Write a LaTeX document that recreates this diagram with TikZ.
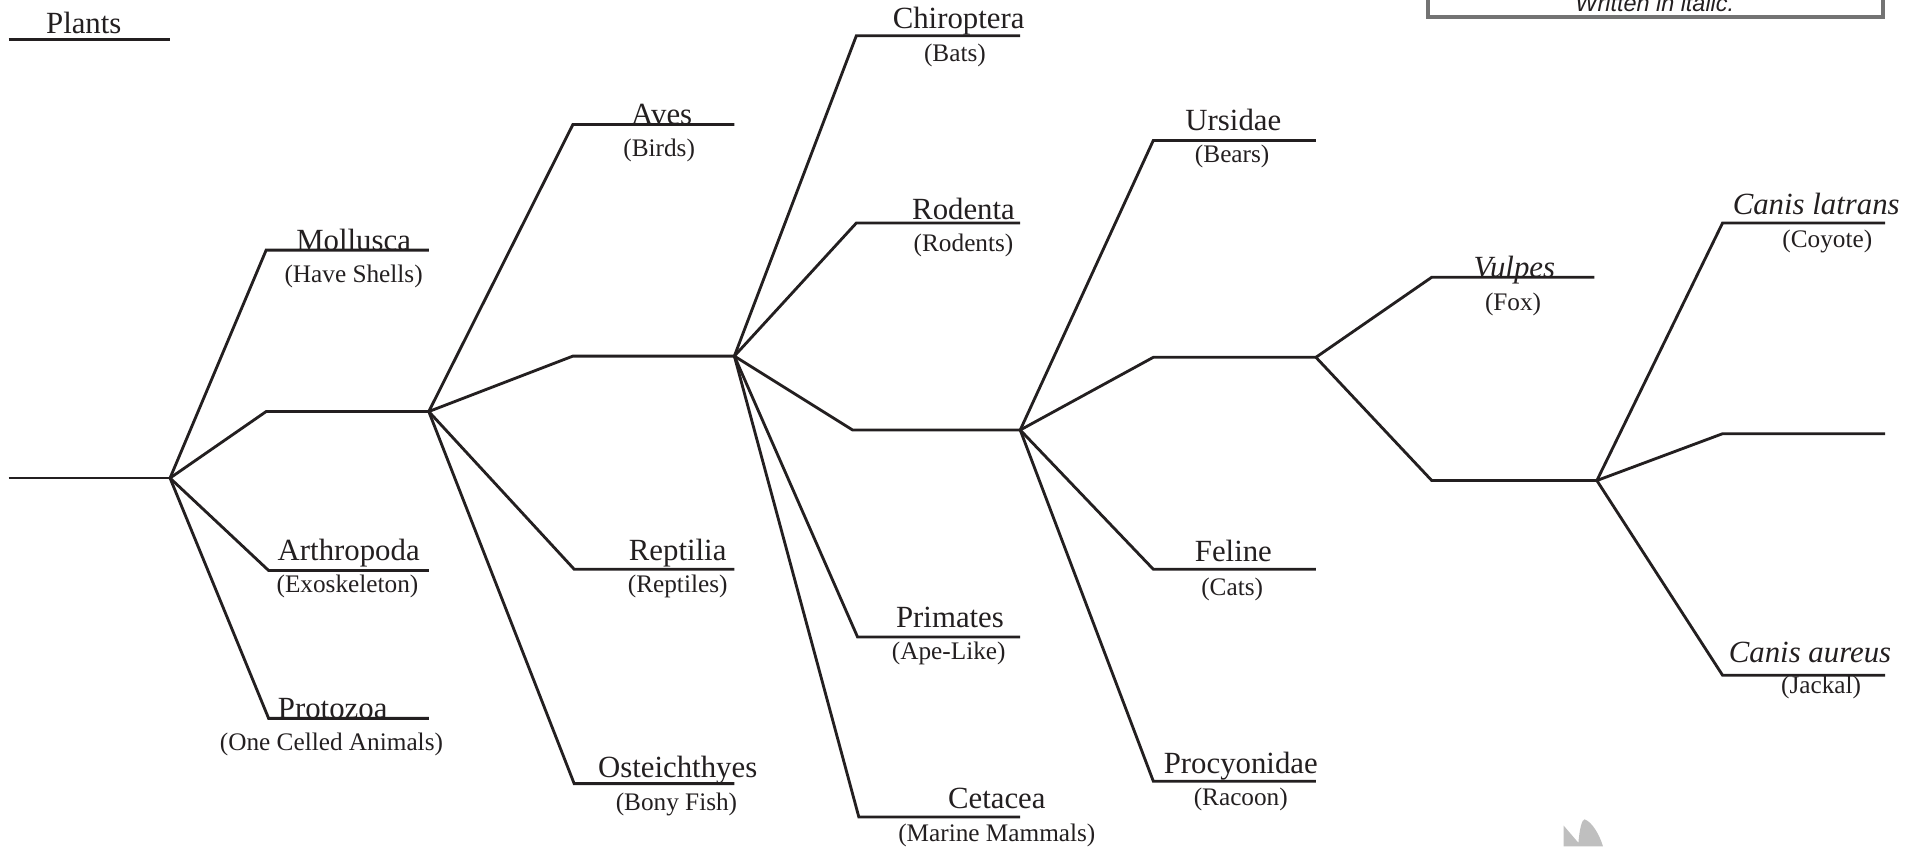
\documentclass[tikz,border=0pt]{standalone}
\usepackage{fontspec}
\setmainfont{Liberation Serif}
\newfontfamily\boxfont{Liberation Sans}
\definecolor{ink}{HTML}{231F20}
\begin{document}
\begin{tikzpicture}[x=1pt,y=-1pt,
  br/.style={line width=2.3pt, line join=miter, draw=ink},
  lab/.style={anchor=base, inner sep=0pt, text=ink, font=\fontsize{25}{25}\selectfont},
  sub/.style={anchor=base, inner sep=0pt, text=ink, font=\fontsize{20.5}{20.5}\selectfont},
  ilab/.style={lab, font=\fontsize{25}{25}\selectfont\itshape}]
\useasboundingbox (0,0) rectangle (1568,687);

% legend box (cut off at top)
\draw[black!55, line width=3.4pt] (1159,-10) -- (1159,13.5) -- (1528,13.5) -- (1528,-10);
\node[anchor=base, inner sep=0pt, text=ink, font=\boxfont\fontsize{19}{19}\selectfont\itshape] (note) at (1343,9) {Written in italic.};

% watermark fragment
\fill[gray!50] (1269,687) -- (1269,670) -- (1281,684) .. controls (1282,672) and (1284,665) .. (1286,665) .. controls (1292,667) and (1298,677) .. (1301,687) -- cycle;

% Plants
\coordinate (pl1) at (7,32); \coordinate (pl2) at (138,32);
\draw[br] (pl1) -- (pl2);
\node[lab] (plants) at (68,27) {Plants};

% level 1
\coordinate (r0) at (7,388); \coordinate (r) at (138,388);
\coordinate (mo1) at (216,203); \coordinate (mo2) at (348,203);
\coordinate (m1a) at (216,334); \coordinate (m1) at (348,334);
\coordinate (ar1) at (218,463); \coordinate (ar2) at (348,463);
\coordinate (pr1) at (218,583); \coordinate (pr2) at (348,583);
\draw[br] (r0) -- (r);
\draw[br] (r) -- (mo1) -- (mo2);
\draw[br] (r) -- (m1a) -- (m1);
\draw[br] (r) -- (ar1) -- (ar2);
\draw[br] (r) -- (pr1) -- (pr2);
\node[lab] (mollusca) at (287,203) {Mollusca};
\node[sub] (mollusca-s) at (287,229) {(Have Shells)};
\node[lab] (arthro) at (283,455) {Arthropoda};
\node[sub] (arthro-s) at (282,481) {(Exoskeleton)};
\node[lab] (proto) at (270,583) {Protozoa};
\node[sub] (proto-s) at (269,609) {(One Celled Animals)};

% level 2
\coordinate (av1) at (465,101); \coordinate (av2) at (596,101);
\coordinate (m2a) at (465,289); \coordinate (m2) at (596,289);
\coordinate (re1) at (466,462); \coordinate (re2) at (596,462);
\coordinate (os1) at (466,636); \coordinate (os2) at (596,636);
\draw[br] (m1) -- (av1) -- (av2);
\draw[br] (m1) -- (m2a) -- (m2);
\draw[br] (m1) -- (re1) -- (re2);
\draw[br] (m1) -- (os1) -- (os2);
\node[lab] (aves) at (537,101) {Aves};
\node[sub] (aves-s) at (535,127) {(Birds)};
\node[lab] (rept) at (550,455) {Reptilia};
\node[sub] (rept-s) at (550,481) {(Reptiles)};
\node[lab] (oste) at (550,631) {Osteichthyes};
\node[sub] (oste-s) at (549,658) {(Bony Fish)};

% level 3
\coordinate (ch1) at (695,29); \coordinate (ch2) at (828,29);
\coordinate (ro1) at (695,181); \coordinate (ro2) at (828,181);
\coordinate (m3a) at (692,349); \coordinate (m3) at (828,349);
\coordinate (pm1) at (696,517); \coordinate (pm2) at (828,517);
\coordinate (ce1) at (697,663); \coordinate (ce2) at (828,663);
\draw[br] (m2) -- (ch1) -- (ch2);
\draw[br] (m2) -- (ro1) -- (ro2);
\draw[br] (m2) -- (m3a) -- (m3);
\draw[br] (m2) -- (pm1) -- (pm2);
\draw[br] (m2) -- (ce1) -- (ce2);
\node[lab] (chiro) at (778,23) {Chiroptera};
\node[sub] (chiro-s) at (775,50) {(Bats)};
\node[lab] (roden) at (782,178) {Rodenta};
\node[sub] (roden-s) at (782,204) {(Rodents)};
\node[lab] (prim) at (771,509) {Primates};
\node[sub] (prim-s) at (770,535) {(Ape-Like)};
\node[lab] (ceta) at (809,656) {Cetacea};
\node[sub] (ceta-s) at (809,683) {(Marine Mammals)};

% level 4
\coordinate (ur1) at (936,114); \coordinate (ur2) at (1068,114);
\coordinate (m4a) at (936,290); \coordinate (m4) at (1068,290);
\coordinate (fe1) at (936,462); \coordinate (fe2) at (1068,462);
\coordinate (pc1) at (936,634); \coordinate (pc2) at (1068,634);
\draw[br] (m3) -- (ur1) -- (ur2);
\draw[br] (m3) -- (m4a) -- (m4);
\draw[br] (m3) -- (fe1) -- (fe2);
\draw[br] (m3) -- (pc1) -- (pc2);
\node[lab] (urs) at (1001,106) {Ursidae};
\node[sub] (urs-s) at (1000,132) {(Bears)};
\node[lab] (fel) at (1001,456) {Feline};
\node[sub] (fel-s) at (1000,483) {(Cats)};
\node[lab] (proc) at (1007,628) {Procyonidae};
\node[sub] (proc-s) at (1007,654) {(Racoon)};

% level 5
\coordinate (vu1) at (1162,225); \coordinate (vu2) at (1294,225);
\coordinate (m5a) at (1162,390); \coordinate (m5) at (1296,390);
\draw[br] (m4) -- (vu1) -- (vu2);
\draw[br] (m4) -- (m5a) -- (m5);
\node[ilab] (vulp) at (1229,225) {Vulpes};
\node[sub] (vulp-s) at (1228,252) {(Fox)};

% level 6
\coordinate (cl1) at (1398,181); \coordinate (cl2) at (1530,181);
\coordinate (cm1) at (1398,352); \coordinate (cm2) at (1530,352);
\coordinate (ca1) at (1398,548); \coordinate (ca2) at (1530,548);
\draw[br] (m5) -- (cl1) -- (cl2);
\draw[br] (m5) -- (cm1) -- (cm2);
\draw[br] (m5) -- (ca1) -- (ca2);
\node[ilab] (clat) at (1474,174) {Canis latrans};
\node[sub] (clat-s) at (1483,201) {(Coyote)};
\node[ilab] (caur) at (1469,538) {Canis aureus};
\node[sub] (caur-s) at (1478,563) {(Jackal)};
\end{tikzpicture}
\end{document}
